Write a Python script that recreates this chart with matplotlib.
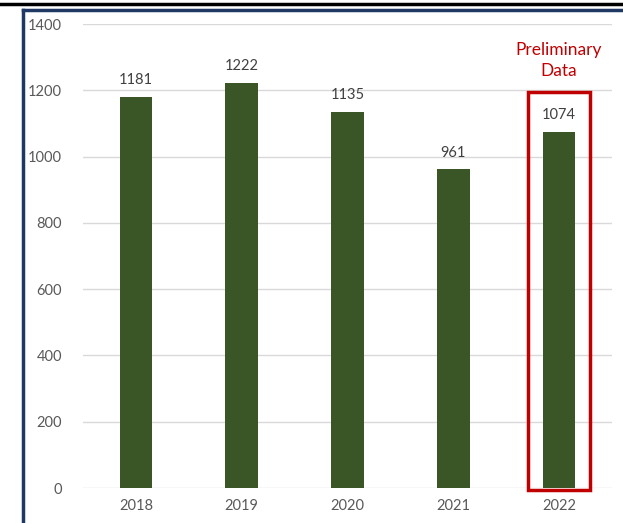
import matplotlib
matplotlib.use("Agg")
from matplotlib import pyplot as plt
from matplotlib.lines import Line2D
from matplotlib.patches import Rectangle

years = ["2018", "2019", "2020", "2021", "2022"]
counts = [1181, 1222, 1135, 961, 1074]
y_ticks = [0, 200, 400, 600, 800, 1000, 1200, 1400]

plt.rcParams['font.family'] = ['Lato', 'DejaVu Sans']

W, H = 623, 523
fig = plt.figure(figsize=(W / 100, H / 100), dpi=100)
ax = fig.add_axes([83 / W, (H - 488) / H, (612 - 83) / W, (488 - 24) / H])

x = list(range(len(years)))
bars = ax.bar(x, counts, width=0.31, color='#3A5526', zorder=3)

for xi, v in zip(x, counts):
    ax.annotate(str(v), (xi, v), xytext=(0, 12), textcoords='offset points',
                ha='center', va='center', fontsize=10.5, color='#404040')

ax.set_xlim(-0.5, len(years) - 0.5)
ax.set_ylim(0, 1400)
ax.set_yticks(y_ticks)
ax.set_xticks(x)
ax.set_xticklabels(years)
ax.tick_params(axis='both', length=0, labelsize=10.5, labelcolor='#595959')
ax.tick_params(axis='y', pad=15)
ax.tick_params(axis='x', pad=8)
ax.grid(axis='y', color='#D9D9D9', linewidth=1, zorder=0)
for s in ax.spines.values():
    s.set_visible(False)

# preliminary box around last year
last = len(years) - 1
ax.add_patch(Rectangle((last - 0.295, -6), 0.59, 1201, fill=False,
                       edgecolor='#C00000', linewidth=2.5, clip_on=False, zorder=4))
ax.text(last, 1290, "Preliminary\nData", ha='center', va='center', fontsize=12.5,
        color='#C00000', linespacing=1.45)

# frame bits left over from the cropped slide
fig.add_artist(Line2D([0, 1], [1 - 4 / H, 1 - 4 / H], color='black', linewidth=2.5))
fig.add_artist(Line2D([23 / W, 23 / W], [0, 1 - 10 / H], color='#1F3864', linewidth=2.5))
fig.add_artist(Line2D([23 / W, 1], [1 - 10 / H, 1 - 10 / H], color='#1F3864', linewidth=2.5))

fig.savefig("out.png", dpi=100)
